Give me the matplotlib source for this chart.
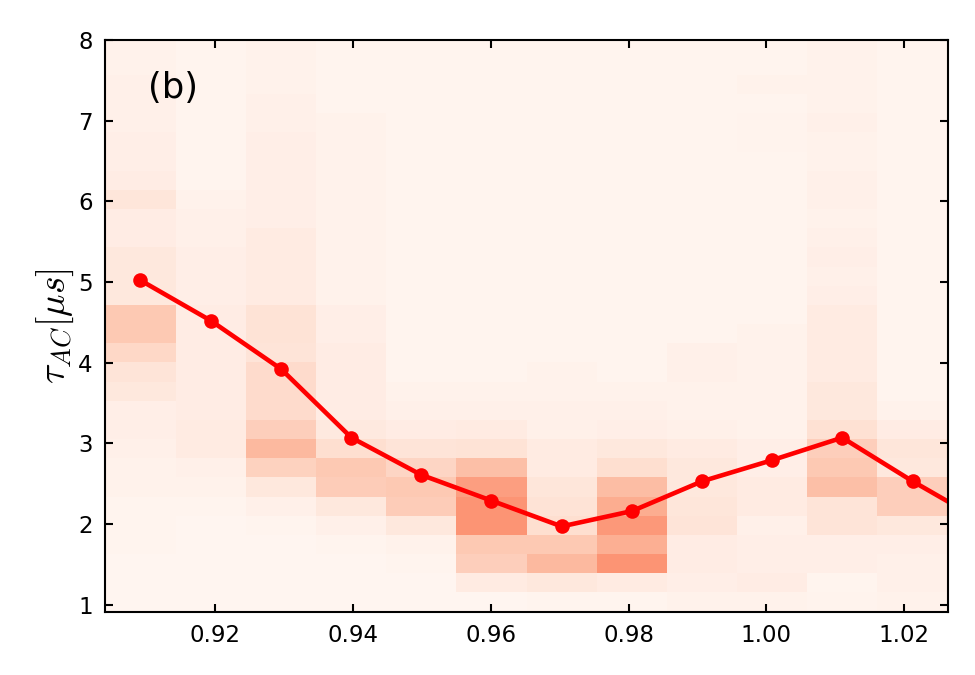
import numpy as np
import matplotlib
matplotlib.use('Agg')
import matplotlib.pyplot as plt

# column centres (x) and mean tau_AC per column (line)
tau_x = [0.9092, 0.9194, 0.9296, 0.9398, 0.9499, 0.9601, 0.9703,
         0.9805, 0.9907, 1.0008, 1.0110, 1.0212, 1.0314]
tau_mean = [5.02, 4.52, 3.92, 3.07, 2.61, 2.29, 1.97,
            2.16, 2.53, 2.79, 3.07, 2.53, 2.03]

# histogram density per column, bottom row first (30 rows)
density = [
    [.02, .02, .02, .03, .03, .03, .04, .04, .05, .06, .06, .10, .12, .17, .22,
     .22, .10, .10, .10, .07, .07, .11, .07, .06, .06, .05, .05, .05, .04, .04],
    [.02, .02, .02, .02, .02, .03, .04, .05, .08, .08, .07, .07, .07, .07, .07,
     .07, .06, .06, .06, .05, .05, .04, .03, .03, .03, .03, .03, .03, .03, .03],
    [.02, .02, .02, .02, .03, .05, .10, .19, .27, .20, .16, .16, .16, .12, .13,
     .13, .08, .08, .08, .08, .06, .06, .06, .06, .06, .05, .05, .04, .04, .04],
    [.02, .02, .02, .03, .05, .10, .21, .22, .15, .09, .07, .07, .07, .07, .06,
     .06, .04, .04, .04, .04, .04, .04, .04, .04, .04, .04, .03, .03, .03, .03],
    [.02, .02, .03, .04, .10, .21, .22, .18, .12, .07, .05, .04, .03, .03, .03,
     .03, .03, .03, .03, .03, .03, .03, .03, .03, .03, .03, .03, .03, .03, .03],
    [.02, .08, .20, .22, .38, .38, .35, .25, .13, .08, .05, .04, .03, .03, .03,
     .03, .03, .03, .03, .03, .03, .03, .03, .03, .03, .03, .03, .03, .03, .03],
    [.03, .10, .27, .22, .15, .13, .11, .08, .08, .05, .05, .04, .04, .03, .03,
     .03, .03, .03, .03, .03, .03, .03, .03, .03, .03, .03, .03, .03, .03, .03],
    [.03, .08, .38, .30, .37, .31, .26, .15, .10, .06, .05, .04, .03, .03, .03,
     .03, .03, .03, .03, .03, .03, .03, .03, .03, .03, .03, .03, .03, .03, .03],
    [.04, .06, .07, .07, .12, .11, .10, .10, .08, .05, .04, .04, .05, .05, .03,
     .03, .03, .03, .03, .03, .03, .03, .03, .03, .03, .03, .03, .03, .03, .03],
    [.04, .07, .06, .06, .05, .08, .08, .06, .06, .04, .04, .04, .04, .04, .04,
     .03, .03, .03, .03, .03, .03, .03, .03, .03, .035, .035, .03, .04, .03, .03],
    [.035, .03, .06, .06, .12, .12, .25, .22, .20, .14, .10, .10, .08, .08, .08,
     .08, .06, .05, .06, .05, .04, .05, .05, .04, .04, .05, .04, .04, .04, .04],
    [.04, .05, .05, .06, .10, .20, .20, .10, .11, .07, .04, .03, .03, .03, .03,
     .03, .03, .03, .03, .03, .03, .03, .03, .03, .03, .03, .03, .03, .03, .03],
]

plt.rcParams['xtick.direction'] = 'in'
plt.rcParams['ytick.direction'] = 'in'
plt.rcParams['xtick.top'] = True
plt.rcParams['ytick.right'] = True
plt.rcParams['mathtext.fontset'] = 'cm'

fig = plt.figure(figsize=(6.5, 4.5), dpi=150)
ax = fig.add_axes([0.108, 0.094, 0.864, 0.847])

# bin edges from the column centres
xc = np.array(tau_x[:len(density)])
dx = xc[1] - xc[0]
x_edges = np.concatenate([xc - dx / 2, [xc[-1] + dx / 2]])
y_edges = np.linspace(0.915, 8.04, 31)

z = np.array(density).T
ax.pcolormesh(x_edges, y_edges, z, cmap='Reds', vmin=0.02, vmax=1, shading='flat')

ax.plot(tau_x, tau_mean, '-o', color='r', lw=2.2, ms=6, mec='r')

ax.set_xlim(x_edges[0], x_edges[-1])
ax.set_ylim(0.915, 8)
ax.set_xticks([0.92, 0.94, 0.96, 0.98, 1.00, 1.02])
ax.set_xticklabels(['0.92', '0.94', '0.96', '0.98', '1.00', '1.02'])
ax.set_yticks(range(1, 9))
ax.tick_params(labelsize=11, length=4, width=1, pad=6)
for s in ax.spines.values():
    s.set_linewidth(1)

ax.set_ylabel(r'$\tau_{AC} [\mu s]$', fontsize=18, labelpad=1)
ax.text(0.051, 0.915, '(b)', transform=ax.transAxes, fontsize=17, va='center')

plt.savefig('out.png', dpi=150)
